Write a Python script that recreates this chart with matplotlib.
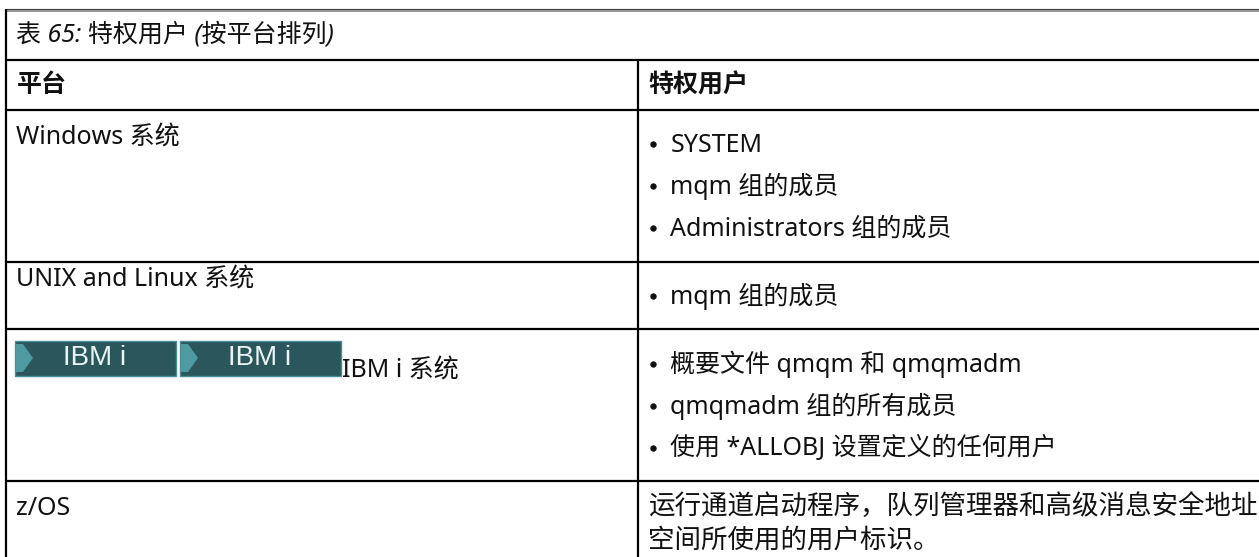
import matplotlib
matplotlib.use("Agg")
import matplotlib.pyplot as plt
from matplotlib.patches import Rectangle, Polygon

FONT = ['Noto Sans', 'Noto Sans CJK SC', 'DejaVu Sans']
plt.rcParams['font.family'] = FONT

title = "表 65: 特权用户 (按平台排列)"
col_headers = ["平台", "特权用户"]
platforms = ["Windows 系统", "UNIX and Linux 系统", "IBM i 系统", "z/OS"]
windows_users = ["SYSTEM", "mqm 组的成员", "Administrators 组的成员"]
unix_users = ["mqm 组的成员"]
ibmi_users = ["概要文件 qmqm 和 qmqmadm", "qmqmadm 组的所有成员", "使用 *ALLOBJ 设置定义的任何用户"]
zos_users = ["运行通道启动程序，队列管理器和高级消息安全地址", "空间所使用的用户标识。"]
badge_label = "IBM i"

W, H = 1259, 557
fig = plt.figure(figsize=(W / 100, H / 100), dpi=100)
ax = fig.add_axes([0, 0, 1, 1])
ax.set_xlim(0, W)
ax.set_ylim(H, 0)
ax.axis('off')

FS = 18
LINE = '#000000'
LW = 1.6
left_x, col_x = 5.8, 638.3
rows_y = [60, 110, 262, 329, 481]

ax.plot([left_x, W], [9.5, 9.5], color='#9a9a9a', lw=2.2, solid_capstyle='butt')
ax.plot([left_x, W], [8.5, 8.5], color='#444444', lw=0.8, solid_capstyle='butt')
ax.plot([left_x, left_x], [9, H], color=LINE, lw=LW, solid_capstyle='butt')
ax.plot([col_x, col_x], [rows_y[0], H], color=LINE, lw=LW, solid_capstyle='butt')
for y in rows_y:
    ax.plot([left_x, W], [y, y], color=LINE, lw=LW, solid_capstyle='butt')


def put(x, y, s, **kw):
    ax.text(x, y, s, fontsize=kw.pop('fontsize', FS), color='#111111', va='baseline', ha='left', **kw)


put(16.5, 41, title, style='italic')
put(16.5, 92.5, col_headers[0], fontweight='bold')
put(648, 92.5, col_headers[1], fontweight='bold')
put(16.5, 144, platforms[0])
put(16.5, 286, platforms[1])
put(342, 377, platforms[2])
put(16.5, 515, platforms[3])


def bullets(items, ys):
    for s, y in zip(items, ys):
        ax.plot([652.7], [y - 8], marker='o', ms=4.6, color='#111111', mew=0)
        put(670.5, y, s)


bullets(windows_users, [151.5, 193.5, 236])
bullets(unix_users, [303.5])
bullets(ibmi_users, [371.5, 413.5, 455.5])
for s, y in zip(zos_users, [514.5, 547.5]):
    put(648, y, s, fontsize=19.1)

for x0 in (15, 180):
    ax.add_patch(Rectangle((x0, 340.5), 161, 35, fc='#2a565c', ec='#4a8f96', lw=1.0))
    ax.add_patch(Polygon([(x0 + 1, 344), (x0 + 8, 344), (x0 + 18, 358), (x0 + 8, 372), (x0 + 1, 372)],
                         closed=True, fc='#4f9aa0', ec='none'))
    ax.text(x0 + 80, 358, badge_label, color='#e8f4f4', fontsize=20, ha='center', va='center',
            family='Liberation Sans')

fig.savefig('out.png', dpi=100, facecolor='white')
